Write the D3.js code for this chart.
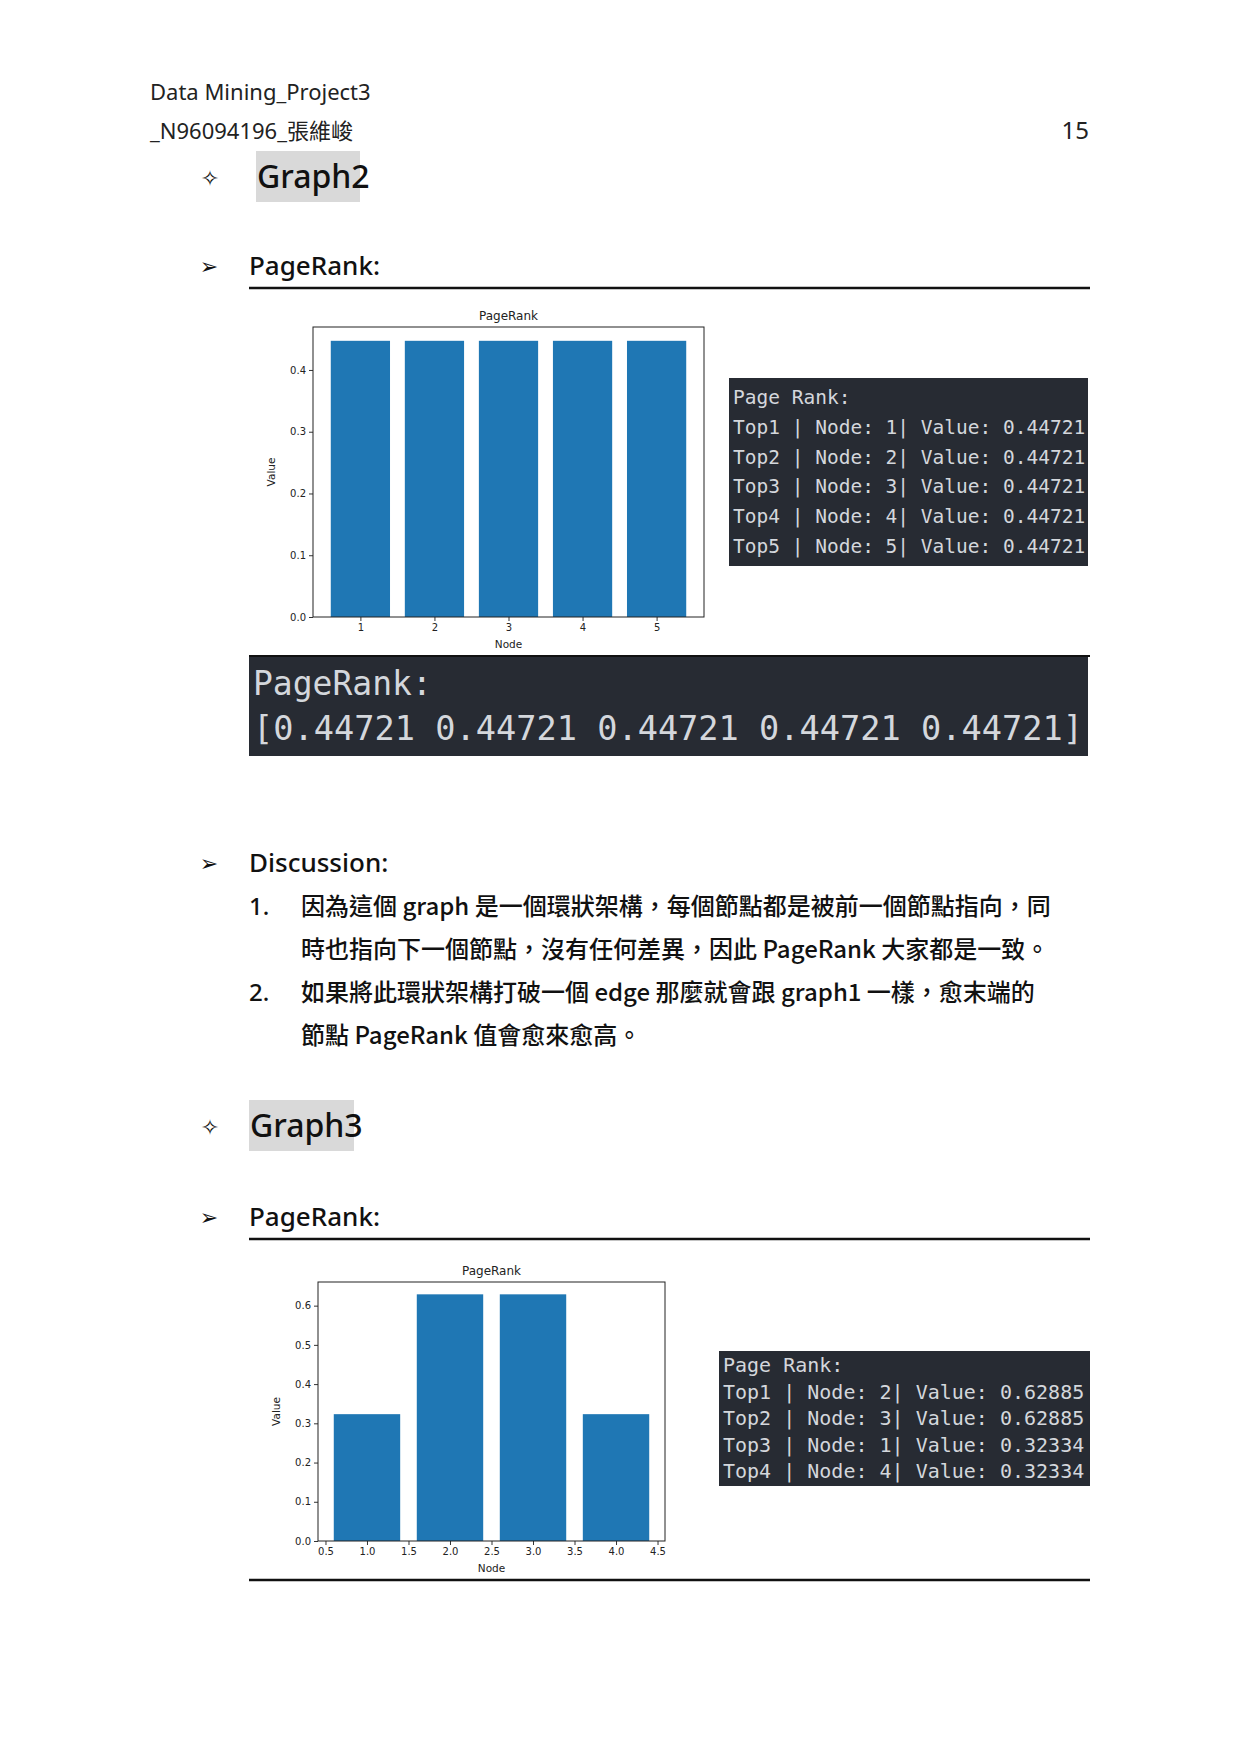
<!DOCTYPE html>
<html><head><meta charset="utf-8">
<script src="https://cdn.jsdelivr.net/npm/d3@7"></script>
<style>body{margin:0;background:#fff}</style></head>
<body><svg id="page" width="1241" height="1755"></svg>
<script>
// graph2 / graph3 pagerank values
var nodes2 = [1, 2, 3, 4, 5];
var values2 = [0.44721, 0.44721, 0.44721, 0.44721, 0.44721];
var nodes3 = [1, 2, 3, 4];
var values3 = [0.32334, 0.62885, 0.62885, 0.32334];
var yTicks2 = [0, 0.1, 0.2, 0.3, 0.4];
var yTicks3 = [0, 0.1, 0.2, 0.3, 0.4, 0.5, 0.6];
var xTicks3 = [0.5, 1, 1.5, 2, 2.5, 3, 3.5, 4, 4.5];
var console2 = ['Page Rank:', 'Top1 | Node: 1| Value: 0.44721', 'Top2 | Node: 2| Value: 0.44721',
  'Top3 | Node: 3| Value: 0.44721', 'Top4 | Node: 4| Value: 0.44721', 'Top5 | Node: 5| Value: 0.44721'];
var console3 = ['Page Rank:', 'Top1 | Node: 2| Value: 0.62885', 'Top2 | Node: 3| Value: 0.62885',
  'Top3 | Node: 1| Value: 0.32334', 'Top4 | Node: 4| Value: 0.32334'];
var discussion = [
  ['1.', '因為這個 graph 是一個環狀架構，每個節點都是被前一個節點指向，同'],
  ['', '時也指向下一個節點，沒有任何差異，因此 PageRank 大家都是一致。'],
  ['2.', '如果將此環狀架構打破一個 edge 那麼就會跟 graph1 一樣，愈末端的'],
  ['', '節點 PageRank 值會愈來愈高。']
];

var svg = d3.select('#page');
var doc = '"Noto Sans","Noto Sans CJK TC",sans-serif';
var mono = '"DejaVu Sans Mono",monospace';
var cjk = '"Noto Sans CJK TC","Noto Sans",sans-serif';

function text(x, y, s, size, opts) {
  opts = opts || {};
  return svg.append('text').attr('x', x).attr('y', y).text(s)
    .attr('font-family', opts.family || doc).attr('font-size', size)
    .attr('font-weight', opts.weight || 'normal').attr('fill', opts.fill || '#111')
    .attr('text-anchor', opts.anchor || 'start');
}
function rule(y) {
  svg.append('line').attr('x1', 249).attr('x2', 1090).attr('y1', y).attr('y2', y)
    .attr('stroke', '#111').attr('stroke-width', 2.5);
}

// header
text(150, 100, 'Data Mining_Project3', 22, {fill: '#222'});
text(150, 139, '_N96094196_張維峻', 22, {fill: '#222'});
text(1089, 139, '15', 24, {anchor: 'end', fill: '#222'});

function section(y, label, boxX, boxW) {
  svg.append('rect').attr('x', boxX).attr('y', y - 26).attr('width', boxW).attr('height', 51).attr('fill', '#d9d9d9');
  text(210, y + 9, '✧', 22, {anchor: 'middle', family: '"DejaVu Sans"'});
  text(boxX + 1, y + 11, label, 32, {weight: 500});
}
function bullet(y, label) {
  text(209, y + 8, '➢', 22, {anchor: 'middle', family: '"DejaVu Sans"'});
  text(249, y + 9, label, 26, {weight: 500});
}

section(177, 'Graph2', 256, 104);
bullet(266, 'PageRank:');
rule(288);

function barChart(box, nodes, values, xDomain, xTicks, yTicks, xFmt) {
  var g = svg.append('g');
  var x = d3.scaleLinear().domain(xDomain).range([box.l, box.r]);
  var y = d3.scaleLinear().domain([0, d3.max(values) * 1.05]).range([box.b, box.t]);
  g.selectAll('rect.bar').data(values).enter().append('rect').attr('class', 'bar')
    .attr('x', function(d, i) { return x(nodes[i] - 0.4); })
    .attr('width', function(d, i) { return x(nodes[i] + 0.4) - x(nodes[i] - 0.4); })
    .attr('y', function(d) { return y(d); })
    .attr('height', function(d) { return box.b - y(d); })
    .attr('fill', '#1f77b4');
  var ax = g.append('g').attr('transform', 'translate(0,' + box.b + ')')
    .call(d3.axisBottom(x).tickValues(xTicks).tickSize(4).tickFormat(xFmt));
  var ay = g.append('g').attr('transform', 'translate(' + box.l + ',0)')
    .call(d3.axisLeft(y).tickValues(yTicks).tickSize(4).tickFormat(d3.format('.1f')));
  [ax, ay].forEach(function(a) {
    a.select('.domain').remove();
    a.selectAll('text').attr('font-family', '"DejaVu Sans"').attr('font-size', 10).attr('fill', '#222');
    a.selectAll('line').attr('stroke', '#333');
  });
  g.append('rect').attr('x', box.l).attr('y', box.t).attr('width', box.r - box.l).attr('height', box.b - box.t)
    .attr('fill', 'none').attr('stroke', '#222').attr('stroke-width', 1);
  var cx = (box.l + box.r) / 2;
  g.append('text').attr('x', cx).attr('y', box.t - 7).attr('text-anchor', 'middle').text('PageRank')
    .attr('font-family', '"DejaVu Sans"').attr('font-size', 12).attr('fill', '#222');
  g.append('text').attr('x', cx).attr('y', box.b + 31).attr('text-anchor', 'middle').text('Node')
    .attr('font-family', '"DejaVu Sans"').attr('font-size', 10.5).attr('fill', '#222');
  g.append('text').attr('transform', 'translate(' + (box.l - 38) + ',' + ((box.t + box.b) / 2) + ') rotate(-90)')
    .attr('text-anchor', 'middle').text('Value')
    .attr('font-family', '"DejaVu Sans"').attr('font-size', 10.5).attr('fill', '#222');
}

barChart({l: 313, r: 704, t: 327, b: 617}, nodes2, values2, [0.36, 5.64], nodes2, yTicks2, d3.format('d'));

function consoleBox(x, y, w, h, lines, y0, step, size) {
  svg.append('rect').attr('x', x).attr('y', y).attr('width', w).attr('height', h).attr('fill', '#272b33');
  lines.forEach(function(s, i) {
    text(x + 4, y0 + i * step, s, size, {family: mono, fill: '#d4d7dc'});
  });
}
consoleBox(729, 378, 359, 188, console2, 404, 29.8, 19.5);

// big console
svg.append('rect').attr('x', 249).attr('y', 656).attr('width', 839).attr('height', 100).attr('fill', '#272b33');
svg.append('line').attr('x1', 249).attr('x2', 1090).attr('y1', 656).attr('y2', 656).attr('stroke', '#111').attr('stroke-width', 2);
text(253, 695, 'PageRank:', 33, {family: mono, fill: '#d4d7dc'});
text(253, 740, '[' + values2.map(function(v) { return v.toFixed(5); }).join(' ') + ']', 33, {family: mono, fill: '#d4d7dc'})
  .attr('textLength', 830).attr('lengthAdjust', 'spacingAndGlyphs');

bullet(863, 'Discussion:');
discussion.forEach(function(row, i) {
  var yy = 915 + i * 43;
  if (row[0]) text(249, yy, row[0], 24, {weight: 500});
  text(301, yy, row[1], 24, {family: cjk, weight: 500});
});

section(1126, 'Graph3', 249, 105);
bullet(1217, 'PageRank:');
rule(1239);

barChart({l: 318, r: 665, t: 1282, b: 1541}, nodes3, values3, [0.41, 4.59], xTicks3, yTicks3, d3.format('.1f'));
consoleBox(719, 1351, 371, 135, console3, 1372, 26.5, 20);

rule(1580);
</script></body></html>
